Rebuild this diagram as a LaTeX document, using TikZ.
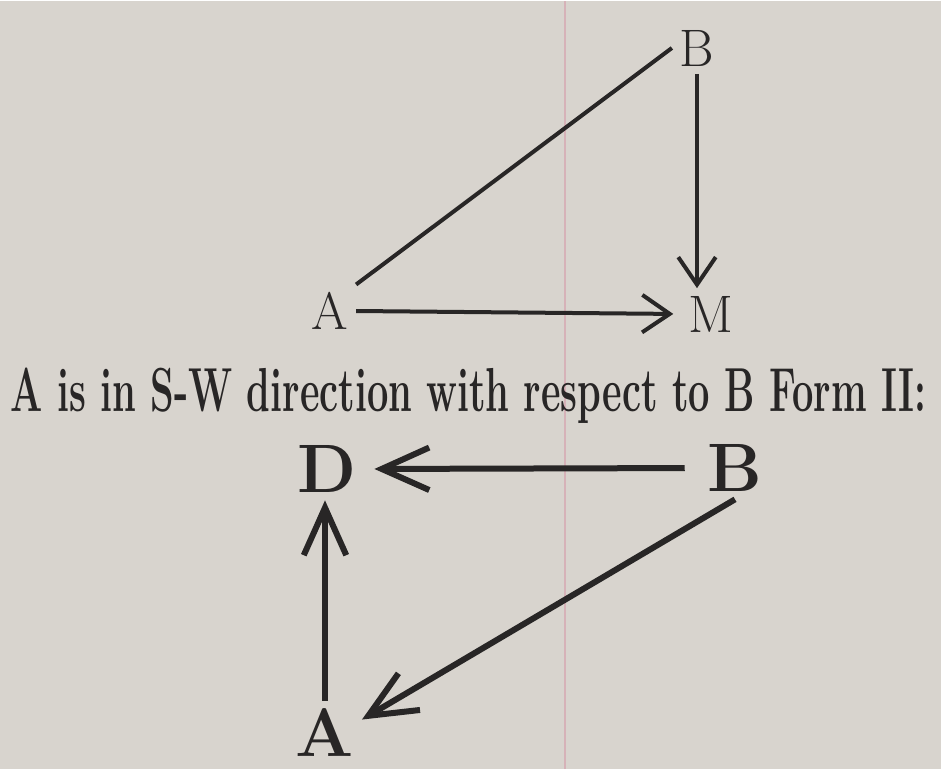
\documentclass[tikz,border=0pt]{standalone}
\usepackage{graphicx}
\usetikzlibrary{arrows.meta}

\definecolor{paper}{RGB}{216,212,206}
\definecolor{ink}{RGB}{40,38,38}
\definecolor{fold}{RGB}{214,178,184}

\begin{document}
\begin{tikzpicture}[
  pt/.style={inner sep=0.15cm, text=ink, font=\fontsize{30}{36}\selectfont},
  bpt/.style={inner sep=0.15cm, text=ink, font=\fontsize{39}{44}\selectfont\bfseries},
  lnA/.style={draw=ink, line width=0.08cm, -{Straight Barb[length=0.55cm,width=0.75cm]}},
  lnB/.style={draw=ink, line width=0.12cm, -{Straight Barb[length=0.95cm,width=0.85cm]}}
]
\fill[paper] (0,0) rectangle (18.82,15.36);
\draw[fold, line width=0.04cm] (11.3,0) -- (11.3,15.36);

% first form
\node[pt] (A) at (6.6,9.16) {A};
\node[pt] (B) at (13.94,14.42) {B};
\node[pt] (M) at (14.22,9.1) {M};
\draw[lnA, -] (A.north east) -- (B.west);
\draw[lnA] (B.south) -- (B.south |- M.north);
\draw[lnA, shorten >=0.15cm] (A.east) -- (M.west);

\node[anchor=base, inner sep=0, text=ink] (cap) at (9.37,7.16)
  {\resizebox{18.3cm}{0.87cm}{\fontsize{37}{40}\selectfont\bfseries A is in S-W direction with respect to B Form II:}};

% second form
\node[bpt] (D) at (6.54,6.0) {D};
\node[bpt] (B2) at (14.7,6.02) {B};
\node[bpt] (A2) at (6.5,0.72) {A};
\draw[lnB, shorten <=0.3cm, shorten >=0.2cm] (B2.west) -- (D.east);
\draw[lnB] (A2.north) -- (A2.north |- D.south);
\draw[lnB] (B2.south) -- (A2.20);
\end{tikzpicture}
\end{document}
